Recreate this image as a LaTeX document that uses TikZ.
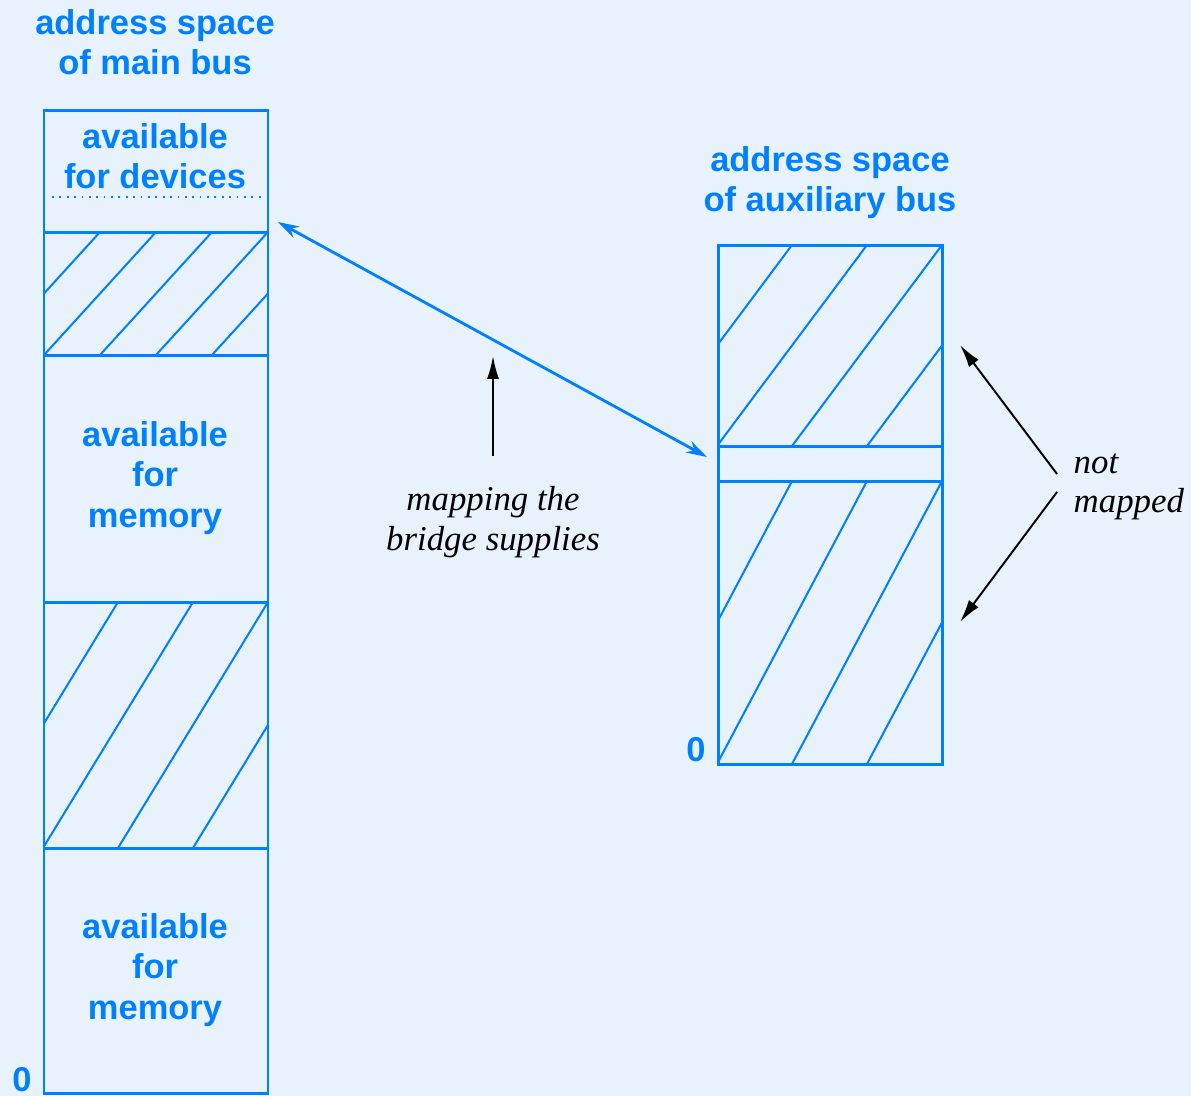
\documentclass[tikz,border=0pt]{standalone}
\usepackage{fontspec}
\setmainfont{Liberation Serif}
\setsansfont{Liberation Sans}
\usetikzlibrary{arrows.meta,calc}

\definecolor{busblue}{RGB}{0,128,255}
\definecolor{bgblue}{RGB}{232,242,253}

% hatched region: x1, y1, x2, y2, spacing
\newcommand{\hatchregion}[5]{%
  \begin{scope}
    \clip (#1,#2) rectangle (#3,#4);
    \foreach \k in {-1,...,4}
      \draw[hatchline] ({#3-\k*#5},#2) -- ({#3-(\k+2)*#5},#4);
  \end{scope}}

\begin{document}
\begin{tikzpicture}[x=0.01cm, y=-0.01cm,
    boxline/.style={draw=busblue, line width=0.85pt},
    hatchline/.style={draw=busblue, line width=0.57pt},
    bluetext/.style={text=busblue, font=\sffamily\bfseries\fontsize{9.8}{11.4}\selectfont, align=center, inner sep=0pt},
    notetext/.style={font=\itshape\fontsize{9.9}{11.2}\selectfont, align=center, inner sep=0pt},
    notearrow/.style={draw=black, line width=0.55pt, -{Latex[length=6.5pt,width=3.4pt]}}]

  % Background
  \fill[bgblue] (0,0) rectangle (1191,1096);
  \useasboundingbox (0,0) rectangle (1191,1096);

  % Main bus address space
  \hatchregion{44}{232}{268}{355}{56}
  \hatchregion{44}{602}{268}{848}{75}
  \draw[boxline] (44,110) rectangle (268,1093);
  \foreach \y in {232,355,602,848}
    \draw[boxline] (44,\y) -- (268,\y);
  \draw[busblue, line width=0.6pt, dash pattern=on 0.5pt off 1.6pt] (52,197) -- (262,197);

  \node[bluetext] (mainttl) at (155,42) {address space\\of main bus};
  \node[bluetext] (devices) at (155,156) {available\\for devices};
  \node[bluetext] (memhigh) at (155,478) {available\\for\\memory};
  \node[bluetext] (memlow) at (155,970) {available\\for\\memory};
  \node[bluetext] (mainzero) at (22,1080) {0};

  % Auxiliary bus address space
  \hatchregion{718}{245}{942}{446}{75}
  \hatchregion{718}{481}{942}{764}{75}
  \draw[boxline] (718,245) rectangle (942,764);
  \draw[boxline] (718,446) -- (942,446);
  \draw[boxline] (718,481) -- (942,481);

  \node[bluetext] (auxttl) at (830,183) {address space\\of auxiliary bus};
  \node[bluetext] (auxzero) at (696,750) {0};

  % Mapping supplied by the bridge
  \coordinate (devspot) at (278,222);
  \coordinate (bandspot) at (707,457);
  \draw[busblue, line width=0.8pt, {Stealth[length=6pt,width=3.6pt]}-{Stealth[length=6pt,width=3.6pt]}] (devspot) -- (bandspot);

  \node[notetext] (maplbl) at (493,522) {mapping the\\bridge supplies};
  \coordinate (maptip) at (493,356);
  \draw[notearrow, shorten <=8.5pt] (maplbl.north) -- (maptip);

  % Unmapped parts
  \node[notetext, align=left, anchor=west] (nmlbl) at (1073,487) {not\\mapped};
  \coordinate (uppertip) at (960,345);
  \coordinate (lowertip) at (960,622);
  \draw[notearrow] ($(nmlbl.west)+(-16,-13)$) -- (uppertip);
  \draw[notearrow] ($(nmlbl.west)+(-16,5)$) -- (lowertip);

\end{tikzpicture}
\end{document}
